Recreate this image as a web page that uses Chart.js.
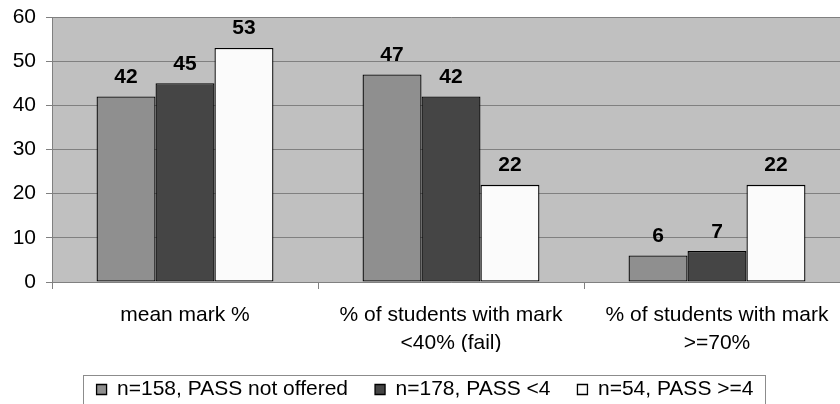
<!DOCTYPE html>
<html>
<head>
<meta charset="utf-8">
<script src="https://cdn.jsdelivr.net/npm/chart.js@4.4.1/dist/chart.umd.min.js"></script>
<style>
  html, body { margin: 0; padding: 0; background: #fff; overflow: hidden; }
  #wrap { width: 850px; height: 410px; }
</style>
</head>
<body>
<div id="wrap"><canvas id="c" width="850" height="410"></canvas></div>
<script>
// Categories (multi-line labels as arrays)
const categories = [
  "mean mark %",
  ["% of students with mark", "<40% (fail)"],
  ["% of students with mark", ">=70%"]
];
const seriesNames = ["n=158, PASS not offered", "n=178, PASS <4", "n=54, PASS >=4"];
const passNotOffered = [42, 47, 6];
const passBelow4 = [45, 42, 7];
const passAtLeast4 = [53, 22, 22];
const yTickValues = [0, 10, 20, 30, 40, 50, 60];

const FONT = "'Liberation Sans', Arial, sans-serif";

// Grey plot-area background
const plotBackground = {
  id: 'plotBackground',
  beforeDraw(chart) {
    const { ctx, chartArea: a } = chart;
    ctx.save();
    ctx.fillStyle = '#c0c0c0';
    ctx.fillRect(a.left, a.top, a.right - a.left, a.bottom - a.top);
    ctx.restore();
  }
};

// Bold value labels above each bar
const valueLabels = {
  id: 'valueLabels',
  afterDatasetsDraw(chart) {
    const { ctx } = chart;
    ctx.save();
    ctx.font = "bold 21px " + FONT;
    ctx.fillStyle = '#000';
    ctx.textAlign = 'center';
    ctx.textBaseline = 'alphabetic';
    chart.data.datasets.forEach((ds, di) => {
      chart.getDatasetMeta(di).data.forEach((bar, i) => {
        ctx.fillText(String(ds.data[i]), bar.x, bar.y - 13.5);
      });
    });
    ctx.restore();
  }
};

// Thin frame around the legend
const legendFrame = {
  id: 'legendFrame',
  afterDraw(chart) {
    const lg = chart.legend;
    if (!lg || !lg.legendHitBoxes || !lg.legendHitBoxes.length) return;
    const hb = lg.legendHitBoxes;
    const first = hb[0], last = hb[hb.length - 1];
    const cy = first.top + first.height / 2;
    const left = first.left - 13.5;
    const right = last.left + last.width + 12;
    const ctx = chart.ctx;
    ctx.save();
    ctx.strokeStyle = '#8c8c8c';
    ctx.lineWidth = 1;
    ctx.strokeRect(Math.round(left) + 0.5, Math.round(cy - 14.3) + 0.5, Math.round(right - left), 32);
    ctx.restore();
  }
};

const barStyle = { borderColor: '#000', borderWidth: 1.3, borderSkipped: false, categoryPercentage: 0.665, barPercentage: 1.0 };

new Chart(document.getElementById('c'), {
  type: 'bar',
  data: {
    labels: categories,
    datasets: [
      Object.assign({ label: seriesNames[0], data: passNotOffered, backgroundColor: '#8f8f8f' }, barStyle),
      Object.assign({ label: seriesNames[1], data: passBelow4, backgroundColor: '#454545' }, barStyle),
      Object.assign({ label: seriesNames[2], data: passAtLeast4, backgroundColor: '#fbfbfb' }, barStyle)
    ]
  },
  options: {
    responsive: false,
    animation: false,
    devicePixelRatio: 1,
    layout: { padding: { top: 0, right: 0, bottom: 0, left: 0 } },
    plugins: {
      tooltip: { enabled: false },
      legend: {
        position: 'bottom',
        labels: {
          font: { family: FONT, size: 21 },
          color: '#000',
          boxWidth: 10,
          boxHeight: 10,
          padding: 27
        }
      }
    },
    scales: {
      x: {
        grid: { display: true, drawOnChartArea: false, drawTicks: true, tickLength: 7, color: '#808080', offset: true },
        border: { display: true, color: '#808080', width: 1 },
        ticks: { font: { family: FONT, size: 21, lineHeight: 1.35 }, color: '#000', padding: 12, maxRotation: 0, autoSkip: false },
        afterFit(s) { s.height = 70; }
      },
      y: {
        min: 0,
        max: 60,
        afterBuildTicks(s) { s.ticks = yTickValues.map(v => ({ value: v })); },
        grid: { color: '#808080', tickLength: 6, lineWidth: 1 },
        border: { display: true, color: '#808080', width: 1 },
        ticks: { font: { family: FONT, size: 21 }, color: '#000', padding: 10 },
        afterFit(s) { s.width = 52; s.paddingTop = 17; s.paddingBottom = 0; }
      }
    }
  },
  plugins: [plotBackground, valueLabels, legendFrame]
});
</script>
</body>
</html>
